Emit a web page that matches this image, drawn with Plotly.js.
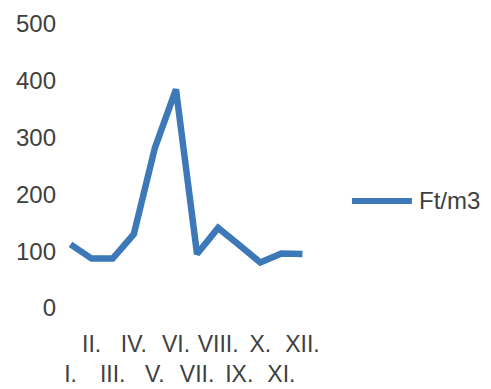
<!DOCTYPE html>
<html><head><meta charset="utf-8">
<script src="https://cdn.plot.ly/plotly-3.0.1.min.js"></script>
<style>html,body{margin:0;padding:0;background:#fff;}#c{width:491px;height:389px;}</style>
</head><body><div id="c"></div>
<script>
const months = ['I.','II.','III.','IV.','V.','VI.','VII.','VIII.','IX.','X.','XI.','XII.'];
const values = [112, 87, 87, 130, 282, 385, 95, 141, 111, 80, 96, 95];
const seriesName = 'Ft/m3';
const yTicks = [0, 100, 200, 300, 400, 500];

const tickText = months.map((m, i) => i % 2 === 0 ? '<br>' + m : m);
const col = '#3d79b8';
const fontCol = '#404040';

Plotly.newPlot('c', [{
  x: months.map((m, i) => i),
  y: values,
  name: seriesName,
  type: 'scatter',
  mode: 'lines',
  line: {color: col, width: 6.5},
  showlegend: false
}], {
  width: 491, height: 389,
  margin: {l: 60, r: 178, t: 24, b: 81},
  paper_bgcolor: '#fff', plot_bgcolor: '#fff',
  font: {family: 'Liberation Sans, Arial, sans-serif', color: fontCol},
  xaxis: {
    range: [-0.5, 11.5], tickvals: months.map((m, i) => i), ticktext: tickText, tickangle: 0,
    showgrid: false, zeroline: false, showline: false, ticks: '',
    tickfont: {size: 23, color: fontCol}, ticklabelstandoff: 20
  },
  yaxis: {
    range: [0, 500], tickvals: yTicks, showgrid: false, zeroline: false, showline: false,
    ticks: '', tickfont: {size: 24, color: fontCol}, ticklabelstandoff: 3
  },
  shapes: [{type: 'line', xref: 'paper', yref: 'paper', x0: 1.154, x1: 1.391, y0: 0.377, y1: 0.377,
    line: {color: col, width: 6}}],
  annotations: [{xref: 'paper', yref: 'paper', x: 1.41, y: 0.377, xanchor: 'left', yanchor: 'middle',
    text: seriesName, showarrow: false, font: {size: 24, color: fontCol}}]
}, {displayModeBar: false, staticPlot: true});
</script></body></html>
